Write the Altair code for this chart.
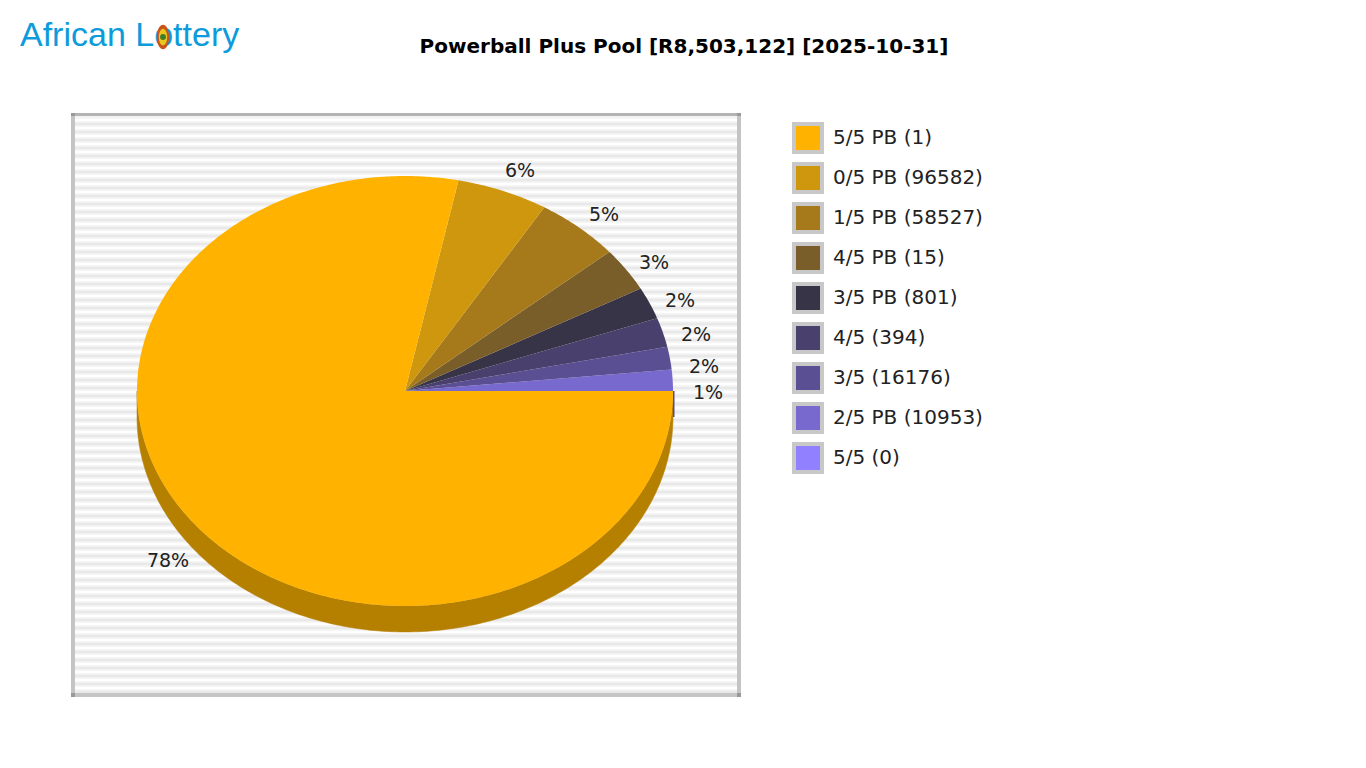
import math
import altair as alt
import pandas as pd

# ---- data
categories = ["5/5 PB (1)", "0/5 PB (96582)", "1/5 PB (58527)", "4/5 PB (15)", "3/5 PB (801)",
              "4/5 (394)", "3/5 (16176)", "2/5 PB (10953)", "5/5 (0)"]
shares = [78.1, 5.5, 5.1, 3.3, 2.4, 2.2, 1.7, 1.6, 0.0]
label_texts = ["78%", "6%", "5%", "3%", "2%", "2%", "2%", "1%"]
colors = ["#FFB300", "#CF970E", "#A67A1B", "#7A5E2A", "#373448", "#49406E", "#5B4F94", "#7869CE", "#9180FF"]

# ---- layout (page pixels)
M = 8
CX, CY, RX, RY, DEPTH = 405 - M, 391 - M, 268, 215, 26
L, T, R, B = 71 - M, 113 - M, 741 - M, 697 - M
label_pos = [(168, 561), (520, 171), (604, 215), (654, 263), (680, 301), (696, 335), (704, 367), (708, 393)]
PX = alt.Scale(domain=[0, 1350], range=[0, 1350])
PY = alt.Scale(domain=[0, 750], range=[0, 750])


def ell(t, dy=0):
    a = math.radians(t)
    return [CX + RX * math.cos(a), CY - RY * math.sin(a) + dy]


def feat(name, ring):
    return {"type": "Feature", "properties": {"slice": name},
            "geometry": {"type": "Polygon", "coordinates": [ring + ring[:1]]}}


# slices run counter-clockwise from east, last category first
feats = []
start = 0.0
for name, share in list(zip(categories, shares))[::-1]:
    stop = start + share * 3.6
    if name == categories[0]:
        stop = 360.0
    n = max(2, int((stop - start) * 2))
    ring = [[CX, CY]] + [ell(start + (stop - start) * i / n) for i in range(n + 1)]
    feats.append(feat(name, ring))
    start = stop

wall_ring = [ell(-t) for t in range(0, 181)] + [ell(-t, DEPTH) for t in range(180, -1, -1)]
wall = [feat("wall", wall_ring)]

proj = alt.Projection(type="identity", scale=1, translate=[0, 0])

one = pd.DataFrame({"a": [0]})


def box(x, x2, y, y2, c):
    return alt.Chart(one).mark_rect(color=c, opacity=1).encode(
        x=alt.value(x), x2=alt.value(x2), y=alt.value(y), y2=alt.value(y2))


panel = box(L, R, T, B, "#f3f3f3")

st_light = pd.DataFrame({"y": [v + 0.0 for v in range(T + 7, B - 3, 8)]})
st_dark = pd.DataFrame({"y": [v + 0.0 for v in range(T + 11, B - 3, 8)]})
stripe_w = alt.Chart(st_light).mark_rule(color="#ffffff", strokeWidth=2.5).encode(
    y=alt.Y("y:Q", scale=PY, axis=None), x=alt.value(L), x2=alt.value(R))
stripe_d = alt.Chart(st_dark).mark_rule(color="#e9e9e9", strokeWidth=2.5).encode(
    y=alt.Y("y:Q", scale=PY, axis=None), x=alt.value(L), x2=alt.value(R))

frame = [box(L, L + 4, T, B, "#c4c4c4"), box(R - 4, R, T, B, "#c4c4c4"),
         box(L, R, T, T + 3, "#b4b4b4"), box(L, R, B - 4, B, "#c4c4c4"),
         box(L, L + 4, T, T + 3, "#999999"), box(L, L + 4, B - 4, B, "#999999"),
         box(R - 4, R, T, T + 3, "#999999"), box(R - 4, R, B - 4, B, "#999999")]

wall_layer = alt.Chart(alt.Data(values=wall)).mark_geoshape(color="#B57F00", stroke="#B57F00", strokeWidth=0.5).project(**proj.to_dict())
sliver = box(CX + RX, CX + RX + 1.5, CY, CY + DEPTH, "#544a8c")

pie = alt.Chart(alt.Data(values=feats)).mark_geoshape(strokeWidth=0).encode(
    fill=alt.Fill("properties.slice:N",
                  scale=alt.Scale(domain=categories, range=colors),
                  legend=alt.Legend(title=None, orient="none", legendX=792 - M, legendY=118 - M,
                                    symbolType="square", symbolSize=784, symbolStrokeWidth=4,
                                    symbolStrokeColor="#c8c8c8", symbolOpacity=1,
                                    labelFont="DejaVu Sans", labelFontSize=20, labelColor="#222222",
                                    labelOffset=9, rowPadding=0, clipHeight=40, labelLimit=300, padding=0,
                                    symbolOffset=0, values=categories, zindex=0)),
).project(**proj.to_dict())

labels_df = pd.DataFrame({"t": label_texts,
                          "x": [p[0] - M for p in label_pos],
                          "y": [p[1] - M for p in label_pos]})
labels = alt.Chart(labels_df).mark_text(font="DejaVu Sans", fontSize=19, color="#222222").encode(
    x=alt.X("x:Q", scale=PX, axis=None), y=alt.Y("y:Q", scale=PY, axis=None), text="t:N")

corners = alt.Chart(pd.DataFrame(
    [{"x": 794 - M + dx, "y": 124 - M + 40 * i + dy} for i in range(len(categories))
     for dx in (0, 28) for dy in (0, 28)])).mark_square(size=16, color="#999999", opacity=1).encode(
    x=alt.X("x:Q", scale=PX, axis=None), y=alt.Y("y:Q", scale=PY, axis=None))

title = alt.Chart(one).mark_text(text="Powerball Plus Pool [R8,503,122] [2025-10-31]", font="DejaVu Sans",
                                 fontWeight="bold", fontSize=20, color="#000000").encode(
    x=alt.value(684 - M), y=alt.value(47 - M))

logo = alt.Chart(one).mark_text(text="African Lottery", font="Liberation Sans", fontSize=34,
                                color="#0E9BDB", align="left", baseline="alphabetic").encode(
    x=alt.value(20 - M), y=alt.value(46 - M))
BX = 163 - M
ELL = "M-0.5,0A0.5,1,0,1,1,0.5,0A0.5,1,0,1,1,-0.5,0Z"
b1 = alt.Chart(one).mark_point(shape=ELL, size=600, filled=True,
                               color="#C8541A", opacity=1).encode(x=alt.value(BX), y=alt.value(37 - M))
b2 = alt.Chart(one).mark_point(shape=ELL, size=280, filled=True,
                               color="#E8C820", opacity=1).encode(x=alt.value(BX), y=alt.value(37 - M))
b3 = alt.Chart(one).mark_point(shape="circle", size=35, filled=True,
                               color="#3F7D2C", opacity=1).encode(x=alt.value(BX), y=alt.value(37 - M))

chart = alt.layer(
    panel, stripe_w, stripe_d, *frame, wall_layer, sliver, pie, labels, corners, title, logo, b1, b2, b3
).resolve_scale(x="shared", y="shared").properties(
    width=1350, height=750, padding=0, autosize=alt.AutoSizeParams(type="none"), background="#ffffff"
).configure_view(stroke=None)

chart.save("out.html", embed_options={"renderer": "svg", "actions": False})
